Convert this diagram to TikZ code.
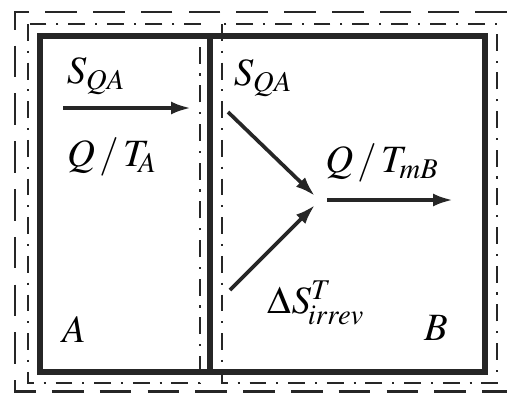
\documentclass[tikz,border=0pt]{standalone}
\usepackage{mathptmx}
\usepackage{tikz}
\usetikzlibrary{arrows.meta, positioning}

\begin{document}
\begin{tikzpicture}[
    x=0.02cm, y=-0.02cm,
    wall/.style={draw=black!85, line width=3.4pt},
    sysline/.style={draw=black!85, line width=1.6pt, dash pattern=on 9.6pt off 5.6pt on 1.2pt off 5.6pt},
    surround/.style={draw=black!85, line width=1.7pt, dash pattern=on 18pt off 9.2pt},
    flow/.style={-{Latex[length=4mm, width=2.6mm]}, draw=black!85, line width=2.1pt},
    every node/.style={font=\fontsize{22}{26}\selectfont, inner sep=1pt}
]
\useasboundingbox (0,0) rectangle (507,393);

% Surroundings
\draw[surround] (507,12) -- (15,12) -- (15,391) -- (507,391);

% System boundaries
\draw[sysline] (28,24) rectangle (200,383);
\draw[sysline] (222,24) rectangle (497,383);

% Walls
\draw[wall] (40,36) rectangle (485,372);
\draw[wall] (210,36) -- (210,372);

% Labels
\node (sqaA) at (96,76) {$S_{QA}$};
\node (qta) at (112,157) {$Q\,/\,T_{\!A}$};
\node (sqaB) at (263,78) {$S_{QA}$};
\node (qtmb) at (382,163) {$Q\,/\,T_{mB}$};
\node (sirr) at (316,303) {$\Delta S^{T}_{\!irrev}$};
\node (sysA) at (74,330) {$A$};
\node (sysB) at (436,328) {$B$};

% Arrow ends
\coordinate (inA) at (63,108);
\coordinate (outA) at (191,108);
\coordinate (inB) at (228,112);
\coordinate (irrB) at (230,290);
\coordinate (meetTop) at (315,196);
\coordinate (meetBot) at (315,205);
\coordinate (meetOut) at (327,200);
\coordinate (outB) at (453,200);

% Arrows
\draw[flow] (inA) -- (outA);
\draw[flow] (inB) -- (meetTop);
\draw[flow] (irrB) -- (meetBot);
\draw[flow] (meetOut) -- (outB);

\end{tikzpicture}
\end{document}
